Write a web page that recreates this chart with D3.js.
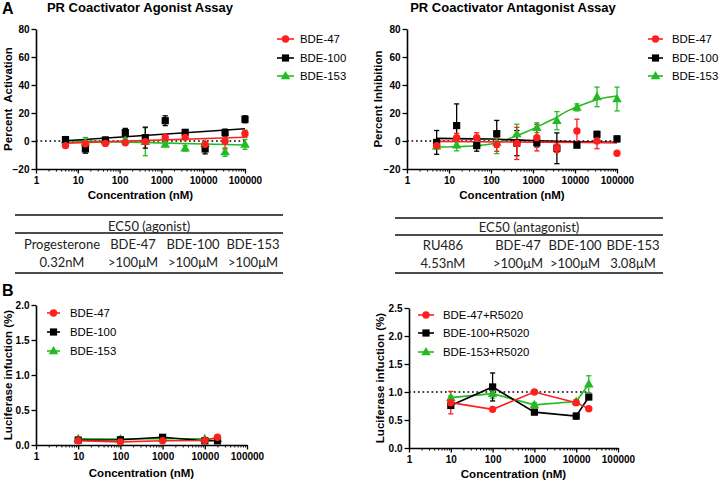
<!DOCTYPE html>
<html><head><meta charset="utf-8">
<script src="https://cdn.jsdelivr.net/npm/d3@7"></script>
<style>
body{margin:0;background:#fff}
svg{display:block}
text{font-family:"Liberation Sans",Arial,sans-serif}
</style>
</head><body>
<svg id="c" width="720" height="484"></svg>
<script>
// ---------- data ----------
const concA = [5.08, 15.2, 45.7, 137, 412, 1235, 3704, 11111, 33333, 100000];
const seriesNames = ["BDE-47", "BDE-100", "BDE-153"];
const seriesNamesR = ["BDE-47+R5020", "BDE-100+R5020", "BDE-153+R5020"];

// Agonist assay (percent activation)
const agoBDE47 = [-3.3, -2.0, -1.7, -1.2, -0.5, 2.6, 2.6, -2.4, -0.2, 5.2];
const agoBDE47Err = [1.5, 1.5, 1.5, 1.2, 1.5, 1.5, 1.5, 2.0, 5.5, 2.5];
const agoBDE100 = [1.0, -5.7, 0.7, 6.0, 2.4, 14.5, 6.2, -5.7, 6.0, 15.5];
const agoBDE100Err = [2, 3, 2, 3, 7.5, 3.5, 1.5, 3.5, 2.5, 2.5];
const agoBDE153 = [0.5, -1.0, 0.0, 0.8, -0.5, -2.4, -5.2, -2.0, -7.9, -2.4];
const agoBDE153Err = [1.5, 3.5, 1.5, 1.5, 10, 1.5, 2, 1.5, 3, 3.5];
const agoFitX = [5.08, 100000];
const agoFit47 = [-1.5, 2.7];
const agoFit100 = [0.2, 8.8];
const agoFit153 = [0.3, -2.9];

// Antagonist assay (percent inhibition)
const antBDE47 = [-3.3, 2.4, 2.4, -2.4, -1.7, 2.4, -5.2, 7.1, 0.0, -8.8];
const antBDE47Err = [2, 3, 3.5, 5, 11.5, 9.5, 3, 8.5, 5.5, 0];
const antBDE100 = [-1.0, 11.0, -3.3, 5.2, -1.5, -1.2, -5.2, -3.0, 4.8, 1.5];
const antBDE100Err = [8.5, 15.5, 4, 9.5, 9, 3, 11, 1, 2, 2];
const antBDE153 = [-3.8, -3.0, -1.8, -1.0, 5.0, 9.5, 14.5, 24.0, 31.5, 30.0];
const antBDE153Err = [2, 4, 3, 8, 7, 3.5, 6.5, 2.5, 7, 8.5];
const antFit47X = [5.08, 100000];
const antFit47 = [-0.3, -1.3];
const antFit100X = [5.08, 100, 1000, 10000, 100000];
const antFit100 = [1.9, 1.4, 0.3, -0.6, -1.0];
const antFit153X = [5.08, 20, 50, 100, 200, 400, 700, 1235, 2000, 3704, 6000, 11111, 20000, 33333, 60000, 100000];
const antFit153 = [-4.3, -3.9, -3.2, -2.1, 0.2, 3.6, 6.6, 9.9, 13.0, 17.0, 20.8, 24.4, 27.4, 29.4, 31.2, 32.2];

// Panel B (luciferase induction)
const concB = [10, 100, 1000, 10000, 20000];
const lucBDE47 = [0.06, 0.045, 0.06, 0.065, 0.11];
const lucBDE100 = [0.07, 0.075, 0.11, 0.06, 0.06];
const lucBDE153 = [0.09, 0.085, 0.09, 0.09, 0.09];
const lucErr = [0.01, 0.01, 0.01, 0.01, 0.01];
const lucR47 = [0.81, 0.69, 1.00, 0.81, 0.70];
const lucR47Err = [0.2, 0.03, 0.04, 0.05, 0];
const lucR100 = [0.76, 1.09, 0.64, 0.57, 0.91];
const lucR100Err = [0.05, 0.25, 0.04, 0.05, 0.02];
const lucR153 = [0.90, 0.97, 0.77, 0.83, 1.14];
const lucR153Err = [0.03, 0.08, 0.04, 0.03, 0.15];

// Tick labels
const xTickVals = [1, 10, 100, 1000, 10000, 100000];
const yTicksA = [-20, 0, 20, 40, 60, 80];
const yTicksB1 = [0, 0.5, 1.0, 1.5, 2.0];
const yTicksB2 = [0, 0.5, 1.0, 1.5, 2.0, 2.5];

// Tables
const tblAgoHead = "EC50 (agonist)";
const tblAgoCols = ["Progesterone", "BDE-47", "BDE-100", "BDE-153"];
const tblAgoVals = ["0.32nM", ">100\u03bcM", ">100\u03bcM", ">100\u03bcM"];
const tblAntHead = "EC50 (antagonist)";
const tblAntCols = ["RU486", "BDE-47", "BDE-100", "BDE-153"];
const tblAntVals = ["4.53nM", ">100\u03bcM", ">100\u03bcM", "3.08\u03bcM"];

// ---------- drawing ----------
const RED = "#ff1f1f", BLK = "#000000", GRN = "#22bb22";
const colors = [RED, BLK, GRN];
const shapes = ["circle", "square", "triangle"];
const svg = d3.select("#c");

function marker(g, shape, cx, cy, color) {
  if (shape === "circle") g.append("circle").attr("cx", cx).attr("cy", cy).attr("r", 3.7).attr("fill", color);
  else if (shape === "square") g.append("rect").attr("x", cx - 3.6).attr("y", cy - 3.6).attr("width", 7.2).attr("height", 7.2).attr("fill", color);
  else g.append("path").attr("d", d3.symbol(d3.symbolTriangle, 40)()).attr("transform", `translate(${cx},${cy + 0.5})`).attr("fill", color);
}

function panel(p) {
  const g = svg.append("g");
  const x = d3.scaleLog().domain([1, 100000]).range([p.xl, p.xr]);
  const y = d3.scaleLinear().domain(p.yDomain).range([p.yb, p.yt]);

  if (p.ref) {
    g.append("line").attr("x1", x(p.ref.x0)).attr("x2", x(p.ref.x1))
      .attr("y1", y(p.ref.y)).attr("y2", y(p.ref.y))
      .attr("stroke", "#000").attr("stroke-width", 1.7).attr("stroke-dasharray", "1.7,2.8");
  }

  // axes
  const minors = [];
  for (let d = 1; d < 100000; d *= 10) for (let k = 2; k < 10; k++) minors.push(d * k);
  const gxm = g.append("g").attr("transform", `translate(0,${p.yb})`)
    .call(d3.axisBottom(x).tickValues(minors).tickFormat("").tickSize(2.5).tickSizeOuter(0));
  gxm.select(".domain").remove();
  gxm.selectAll("line").attr("stroke-width", 1);
  const gx = g.append("g").attr("transform", `translate(0,${p.yb})`)
    .call(d3.axisBottom(x).tickValues(xTickVals).tickFormat(d3.format("d")).tickSize(4.5).tickPadding(3).tickSizeOuter(0));
  const gy = g.append("g").attr("transform", `translate(${p.xl},0)`)
    .call(d3.axisLeft(y).tickValues(p.yTicks).tickFormat(p.fmt).tickSize(4.5).tickPadding(2).tickSizeOuter(0));
  [gx, gy].forEach(a => {
    a.select(".domain").attr("stroke-width", 1.6);
    a.selectAll(".tick line").attr("stroke-width", 1.3);
    a.selectAll("text").attr("font-size", 10).attr("font-weight", "bold").attr("fill", "#000")
      .style("font-family", '"Liberation Sans",Arial,sans-serif');
  });

  // axis titles
  g.append("text").attr("x", (p.xl + p.xr) / 2).attr("y", p.xLabY).attr("text-anchor", "middle")
    .attr("font-size", 11.5).attr("font-weight", "bold").text("Concentration (nM)");
  g.append("text").attr("transform", `translate(${p.yLabX},${p.yLabY}) rotate(-90)`).attr("text-anchor", "middle")
    .attr("font-size", 11.5).attr("font-weight", "bold").style("white-space", "pre").text(p.yLabel);
  if (p.title) g.append("text").attr("x", p.titleX).attr("y", 12).attr("text-anchor", "middle")
    .attr("font-size", 13).attr("font-weight", "bold").text(p.title);

  // series, drawn green, black, red
  const order = [2, 1, 0];
  const line = d3.line().x(d => x(d[0])).y(d => y(d[1]));
  order.forEach(i => {
    const s = p.series[i];
    const fx = s.fitX || p.conc, fy = s.fit || s.vals;
    const lg = d3.line().x(d => x(d[0])).y(d => y(d[1])).curve(s.fitX && s.fitX.length > 2 ? d3.curveMonotoneX : d3.curveLinear);
    g.append("path").attr("d", lg(fx.map((v, k) => [v, fy[k]])))
      .attr("fill", "none").attr("stroke", colors[i]).attr("stroke-width", 1.6);
  });
  order.forEach(i => {
    const s = p.series[i];
    p.conc.forEach((c, k) => {
      const e = s.err[k];
      if (e > 0) {
        const cx = x(c), y1 = y(s.vals[k] + e), y2 = y(s.vals[k] - e);
        g.append("line").attr("x1", cx).attr("x2", cx).attr("y1", y1).attr("y2", y2).attr("stroke", colors[i]).attr("stroke-width", 1.3);
        [y1, y2].forEach(yy => g.append("line").attr("x1", cx - 2.6).attr("x2", cx + 2.6).attr("y1", yy).attr("y2", yy)
          .attr("stroke", colors[i]).attr("stroke-width", 1.3));
      }
    });
  });
  order.forEach(i => {
    const s = p.series[i];
    p.conc.forEach((c, k) => marker(g, shapes[i], x(c), y(s.vals[k]), colors[i]));
  });

  // legend
  p.legNames.forEach((n, i) => {
    const ly = p.leg.y[i];
    g.append("line").attr("x1", p.leg.x0).attr("x2", p.leg.x1).attr("y1", ly).attr("y2", ly)
      .attr("stroke", colors[i]).attr("stroke-width", 1.6);
    marker(g, shapes[i], (p.leg.x0 + p.leg.x1) / 2, ly, colors[i]);
    g.append("text").attr("x", p.leg.tx).attr("y", ly + 4).attr("font-size", 11.4).text(n);
  });
}

const fmt0 = d3.format("d"), fmt1 = d3.format(".1f");

panel({
  xl: 36, xr: 245, yt: 29, yb: 169, yDomain: [-20, 80], yTicks: yTicksA, fmt: fmt0,
  conc: concA, title: "PR Coactivator Agonist Assay", titleX: 140,
  yLabel: "Percent  Activation", yLabX: 12, yLabY: 99, xLabY: 199,
  ref: {x0: 1, x1: 100000, y: 0},
  legNames: seriesNames, leg: {x0: 277, x1: 294, tx: 300, y: [39, 58, 76]},
  series: [
    {vals: agoBDE47, err: agoBDE47Err, fitX: agoFitX, fit: agoFit47},
    {vals: agoBDE100, err: agoBDE100Err, fitX: agoFitX, fit: agoFit100},
    {vals: agoBDE153, err: agoBDE153Err, fitX: agoFitX, fit: agoFit153}
  ]
});

panel({
  xl: 407, xr: 617, yt: 29, yb: 169, yDomain: [-20, 80], yTicks: yTicksA, fmt: fmt0,
  conc: concA, title: "PR Coactivator Antagonist Assay", titleX: 513,
  yLabel: "Percent Inhibition", yLabX: 382, yLabY: 99, xLabY: 199,
  ref: {x0: 1, x1: 100000, y: 0},
  legNames: seriesNames, leg: {x0: 648, x1: 663, tx: 672, y: [39, 58, 76]},
  series: [
    {vals: antBDE47, err: antBDE47Err, fitX: antFit47X, fit: antFit47},
    {vals: antBDE100, err: antBDE100Err, fitX: antFit100X, fit: antFit100},
    {vals: antBDE153, err: antBDE153Err, fitX: antFit153X, fit: antFit153}
  ]
});

panel({
  xl: 36, xr: 247, yt: 305, yb: 445, yDomain: [0, 2], yTicks: yTicksB1, fmt: fmt1,
  conc: concB, yLabel: "Luciferase infuction (%)", yLabX: 12, yLabY: 375, xLabY: 477,
  legNames: seriesNames, leg: {x0: 47, x1: 60, tx: 70, y: [313, 332, 351]},
  series: [
    {vals: lucBDE47, err: lucErr},
    {vals: lucBDE100, err: lucErr},
    {vals: lucBDE153, err: lucErr}
  ]
});

panel({
  xl: 409, xr: 618, yt: 308, yb: 448, yDomain: [0, 2.5], yTicks: yTicksB2, fmt: fmt1,
  conc: concB, yLabel: "Luciferase infuction (%)", yLabX: 384, yLabY: 378, xLabY: 478,
  ref: {x0: 1, x1: 20000, y: 1.0},
  legNames: seriesNamesR, leg: {x0: 418, x1: 434, tx: 443, y: [315, 333, 352]},
  series: [
    {vals: lucR47, err: lucR47Err},
    {vals: lucR100, err: lucR100Err},
    {vals: lucR153, err: lucR153Err}
  ]
});

// panel letters
svg.append("text").attr("x", 2).attr("y", 14).attr("font-size", 16).attr("font-weight", "bold").text("A");
svg.append("text").attr("x", 2).attr("y", 296).attr("font-size", 16).attr("font-weight", "bold").text("B");

// tables
function table(t) {
  const g = svg.append("g").style("font-family", "Lato, Carlito, sans-serif");
  const ln = (yy) => g.append("line").attr("x1", t.x0).attr("x2", t.x1).attr("y1", yy).attr("y2", yy)
    .attr("stroke", "#111").attr("stroke-width", 1.4);
  ln(t.top); ln(t.mid); ln(t.bot);
  g.append("text").attr("x", (t.x0 + t.x1) / 2).attr("y", t.hy).attr("text-anchor", "middle")
    .attr("font-size", 13).attr("fill", "#222").style("font-family", "Lato, sans-serif").text(t.head);
  t.cols.forEach((c, i) => {
    g.append("text").attr("x", t.cx[i]).attr("y", t.r1).attr("text-anchor", "middle")
      .attr("font-size", 13).attr("fill", "#222").style("font-family", "Lato, sans-serif").text(c);
    g.append("text").attr("x", t.cx[i]).attr("y", t.r2).attr("text-anchor", "middle")
      .attr("font-size", 13).attr("fill", "#222").style("font-family", "Lato, sans-serif").text(t.vals[i]);
  });
}
table({x0: 15, x1: 283, top: 215, mid: 233, bot: 273, hy: 230.5, r1: 248.5, r2: 266.5,
  head: tblAgoHead, cols: tblAgoCols, vals: tblAgoVals, cx: [62, 133, 193, 253]});
table({x0: 395, x1: 663, top: 218, mid: 235, bot: 273, hy: 231.5, r1: 249.5, r2: 267.5,
  head: tblAntHead, cols: tblAntCols, vals: tblAntVals, cx: [443, 518, 575, 633]});
</script>
</body></html>
